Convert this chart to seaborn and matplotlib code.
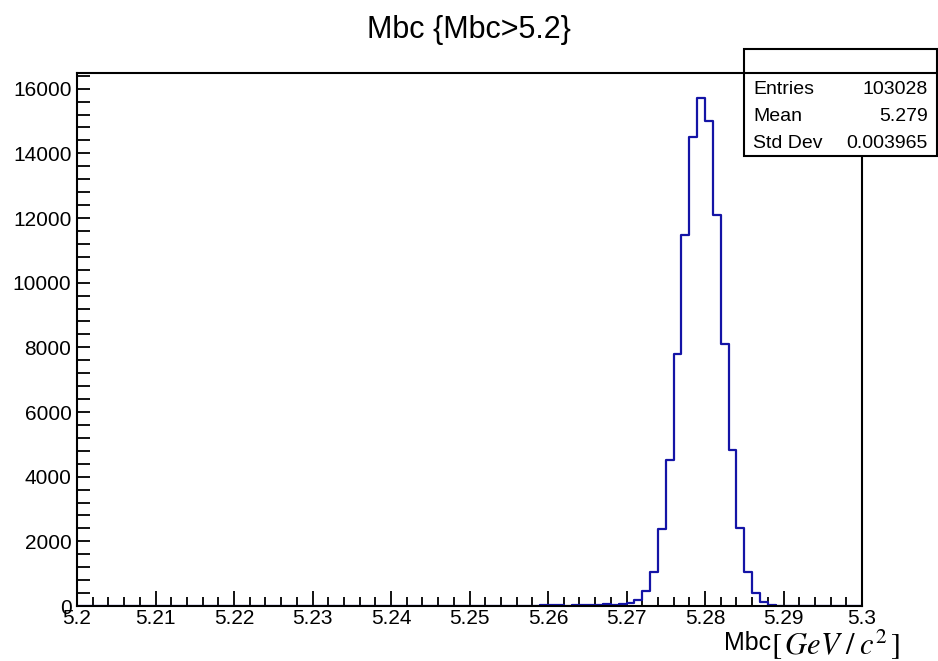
import matplotlib
matplotlib.use("Agg")
import numpy as np
import pandas as pd
import seaborn as sns
import matplotlib.pyplot as plt
from matplotlib.ticker import MultipleLocator
from matplotlib.patches import Rectangle
from matplotlib.lines import Line2D

#///// Data (100 bins, 5.2 - 5.3 GeV/c^2)
# bin centres of the non-empty bins
mbc_centres = [5.2595, 5.2605, 5.2615,
               5.2635, 5.2645, 5.2655, 5.2665, 5.2675, 5.2685, 5.2695,
               5.2705, 5.2715, 5.2725, 5.2735, 5.2745, 5.2755, 5.2765,
               5.2775, 5.2785, 5.2795, 5.2805, 5.2815, 5.2825, 5.2835,
               5.2845, 5.2855, 5.2865, 5.2875, 5.2885]
# entries per bin
mbc_counts = [40, 45, 40,
              40, 45, 40, 45, 50, 45, 55,
              100, 180, 460, 1050, 2390, 4530, 7780,
              11460, 14500, 15710, 14990, 12100, 8090, 4840,
              2420, 1050, 414, 124, 43]

xtick_values = [5.2, 5.21, 5.22, 5.23, 5.24, 5.25, 5.26, 5.27, 5.28, 5.29, 5.3]
xtick_labels = ['5.2', '5.21', '5.22', '5.23', '5.24', '5.25', '5.26', '5.27', '5.28', '5.29', '5.3']
ytick_values = [0, 2000, 4000, 6000, 8000, 10000, 12000, 14000, 16000]

# stats box
stats_labels = ['Entries', 'Mean', 'Std Dev']
stats_values = ['103028', '5.279', '0.003965']

#///// Style
sns.set_theme(style='white')
plt.rcParams['font.family'] = ['Liberation Sans', 'DejaVu Sans']
plt.rcParams['mathtext.fontset'] = 'stix'
plt.rcParams['text.color'] = 'black'

W, H = 938, 661
fig = plt.figure(figsize=(W / 100, H / 100), dpi=100)
fig.patch.set_facecolor('white')
ax = fig.add_axes([77 / W, 1 - 606 / H, 785 / W, 533 / H])

#///// Histogram
df = pd.DataFrame({'Mbc': mbc_centres, 'count': mbc_counts})
sns.histplot(data=df, x='Mbc', weights='count', bins=100, binrange=(5.2, 5.3),
             element='step', fill=False, color='#1414a6', linewidth=1.6, ax=ax)

ax.set_xlim(5.2, 5.3)
ax.set_ylim(0, 16485)
ax.set_xlabel('')
ax.set_ylabel('')

# x-axis
ax.set_xticks(xtick_values, labels=xtick_labels)
ax.xaxis.set_minor_locator(MultipleLocator(0.002))
# y-axis
ax.set_yticks(ytick_values, labels=[str(v) for v in ytick_values])
ax.yaxis.set_minor_locator(MultipleLocator(400))
ax.tick_params(which='both', direction='in', bottom=True, left=True, top=False, right=False,
               colors='black', labelcolor='black')
ax.tick_params(axis='x', which='major', length=10.8, width=1.3, labelsize=15, pad=2)
ax.tick_params(axis='x', which='minor', length=6.5, width=1.3)
ax.tick_params(axis='y', which='major', length=9.2, width=1.3, labelsize=15, pad=4)
ax.tick_params(axis='y', which='minor', length=9.2, width=1.3)
for s in ax.spines.values():
    s.set_linewidth(1.5)
    s.set_color('black')

# Title
fig.text(0.5, 1 - 30 / H, 'Mbc {Mbc>5.2}', ha='center', va='center', fontsize=22)

# Stats box
fig.add_artist(Rectangle((744 / W, 1 - 156 / H), 193 / W, 107 / H, transform=fig.transFigure,
                         facecolor='white', edgecolor='black', linewidth=1.5, zorder=5))
fig.add_artist(Line2D([744 / W, 937 / W], [1 - 73 / H, 1 - 73 / H], transform=fig.transFigure,
                      color='black', linewidth=1.5, zorder=6))
for k, (lab, val) in enumerate(zip(stats_labels, stats_values)):
    y = 1 - (90 + 26.5 * k) / H
    fig.text(753 / W, y, lab, ha='left', va='center', fontsize=14, zorder=7)
    fig.text(928 / W, y, val, ha='right', va='center', fontsize=14, zorder=7)

# Axis title
fig.text(724 / W, 1 - 643 / H, 'Mbc', ha='left', va='center', fontsize=18)
fig.text(771 / W, 1 - 645 / H, r'$[\,GeV\;/\;c^{2}\,]$', ha='left', va='center', fontsize=22)

plt.savefig('out.png', dpi=100)
